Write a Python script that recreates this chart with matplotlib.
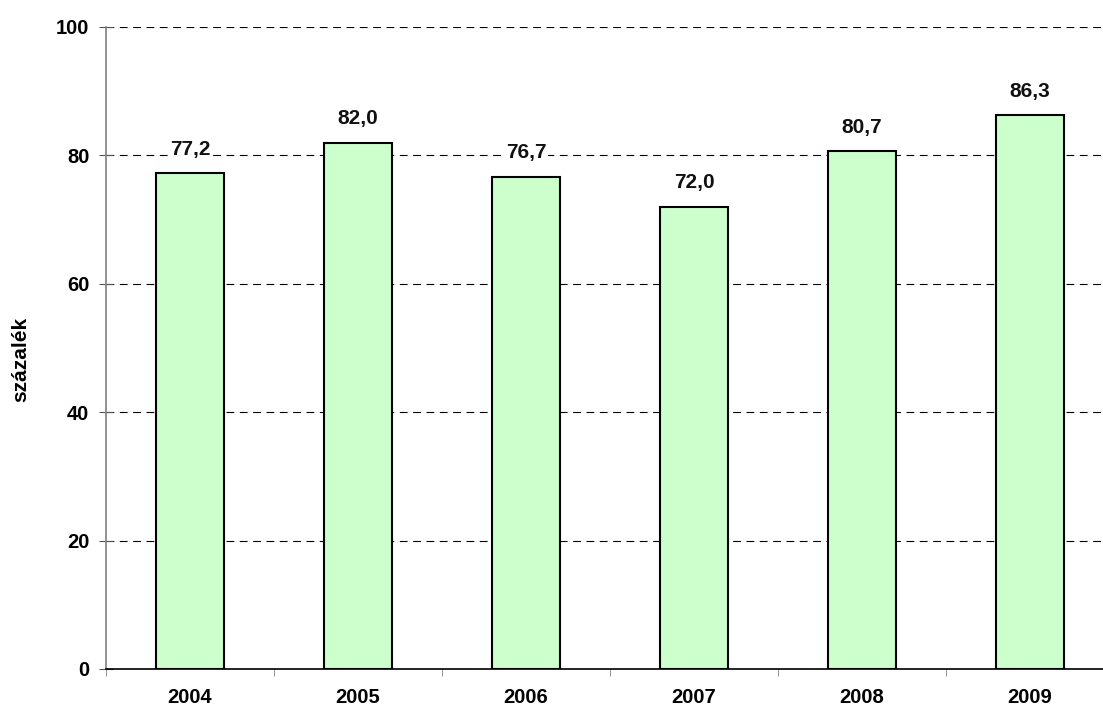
import matplotlib
matplotlib.use("Agg")
import matplotlib.pyplot as plt
import numpy as np

years = ["2004", "2005", "2006", "2007", "2008", "2009"]
values = [77.2, 82.0, 76.7, 72.0, 80.7, 86.3]
value_labels = ["77,2", "82,0", "76,7", "72,0", "80,7", "86,3"]
yticks = [0, 20, 40, 60, 80, 100]
ylabel = "százalék"

plt.rcParams['font.family'] = ['Liberation Sans', 'DejaVu Sans']
plt.rcParams['font.weight'] = 'bold'

W, H = 1103, 708
fig = plt.figure(figsize=(W / 100, H / 100), dpi=100)
ax = fig.add_axes([106 / W, 1 - 669 / H, (1114 - 106) / W, (669 - 27) / H])

x = np.arange(len(years))
ax.bar(x, values, width=0.405, color='#CCFFCC', edgecolor='black', linewidth=1.5, zorder=3)

for xi, v, lab in zip(x, values, value_labels):
    ax.annotate(lab, (xi, v), xytext=(0, 13.2), textcoords='offset points',
                ha='center', va='baseline', fontsize=15, fontweight='bold', color='#111111',
                bbox=dict(facecolor='white', edgecolor='none', pad=1.0), zorder=4)

ax.set_xlim(-0.5, len(years) - 0.5)
ax.set_ylim(0, 100)
ax.set_yticks(yticks)
ax.set_yticklabels([str(t) for t in yticks], fontsize=14.5, fontweight='bold')
ax.yaxis.grid(True, color='black', linestyle=(0, (7, 5)), linewidth=0.8, zorder=0)
ax.set_axisbelow(True)

ax.set_xticks(x)
ax.set_xticklabels(years, fontsize=14.5, fontweight='bold')
ax.tick_params(axis='x', which='major', length=0, pad=14)
ax.set_xticks(np.arange(-0.5, len(years) + 0.5, 1), minor=True)
ax.tick_params(axis='x', which='minor', length=5, color='#808080', direction='out')
ax.tick_params(axis='y', length=10, color='#555555', direction='inout', pad=7)

for s in ['top', 'right']:
    ax.spines[s].set_visible(False)
ax.spines['left'].set_color('#808080')
ax.spines['left'].set_linewidth(1.2)
ax.spines['bottom'].set_color('black')
ax.spines['bottom'].set_linewidth(1.2)

fig.text(21 / W, 1 - 359 / H, ylabel, rotation=90, ha='center', va='center',
         fontsize=15, fontweight='bold')

fig.savefig("out.png", dpi=100)
